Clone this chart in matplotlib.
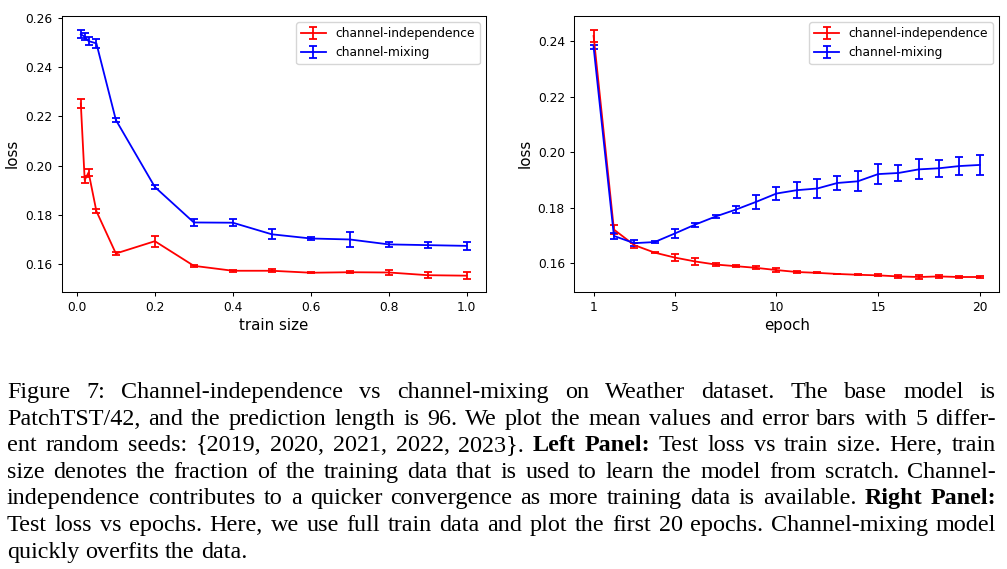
import matplotlib
matplotlib.use('Agg')
import matplotlib.pyplot as plt

# ---------------- data ----------------
train_size = [0.01, 0.02, 0.03, 0.05, 0.1, 0.2, 0.3, 0.4, 0.5, 0.6, 0.7, 0.8, 0.9, 1.0]
ci_loss_ts = [0.2252, 0.1941, 0.1972, 0.1815, 0.1643, 0.1693, 0.1593, 0.1573, 0.1573, 0.1565, 0.1567, 0.1566, 0.1555, 0.1553]
ci_err_ts = [0.0018, 0.0012, 0.0015, 0.0009, 0.0007, 0.0022, 0.0004, 0.0004, 0.0006, 0.0002, 0.0005, 0.0011, 0.0012, 0.0014]
cm_loss_ts = [0.2533, 0.2523, 0.2505, 0.2496, 0.2185, 0.1913, 0.1769, 0.1768, 0.1721, 0.1704, 0.1700, 0.1680, 0.1677, 0.1674]
cm_err_ts = [0.0016, 0.0015, 0.0016, 0.0017, 0.0008, 0.0009, 0.0014, 0.0014, 0.0020, 0.0005, 0.0029, 0.0011, 0.0011, 0.0015]

epochs = list(range(1, 21))
ci_loss_ep = [0.2419, 0.1721, 0.1665, 0.1638, 0.1620, 0.1606, 0.1595, 0.1589, 0.1583, 0.1575,
              0.1568, 0.1565, 0.1561, 0.1558, 0.1556, 0.1552, 0.1550, 0.1552, 0.1550, 0.1550]
ci_err_ep = [0.0022, 0.0015, 0.0009, 0.0003, 0.0012, 0.0011, 0.0006, 0.0004, 0.0005, 0.0006,
             0.0002, 0.0002, 0.0001, 0.0002, 0.0004, 0.0006, 0.0006, 0.0005, 0.0004, 0.0004]
cm_loss_ep = [0.2379, 0.1698, 0.1672, 0.1676, 0.1707, 0.1739, 0.1768, 0.1793, 0.1821, 0.1851,
              0.1863, 0.1869, 0.1889, 0.1895, 0.1921, 0.1925, 0.1938, 0.1942, 0.1950, 0.1954]
cm_err_ep = [0.0006, 0.0010, 0.0010, 0.0004, 0.0016, 0.0007, 0.0007, 0.0013, 0.0025, 0.0024,
             0.0029, 0.0034, 0.0026, 0.0036, 0.0035, 0.0028, 0.0036, 0.0030, 0.0034, 0.0036]
epoch_ticks = [1, 5, 10, 15, 20]

caption_lines = [
    [("Figure 7:  Channel-independence vs channel-mixing on Weather dataset.  The base model is", False)],
    [("PatchTST/42, and the prediction length is 96. We plot the mean values and error bars with 5 differ-", False)],
    [("ent random seeds: {2019, 2020, 2021, 2022, 2023}.", False), ("Left Panel:", True),
     ("Test loss vs train size. Here, train", False)],
    [("size denotes the fraction of the training data that is used to learn the model from scratch. Channel-", False)],
    [("independence contributes to a quicker convergence as more training data is available.", False),
     ("Right Panel:", True)],
    [("Test loss vs epochs. Here, we use full train data and plot the first 20 epochs. Channel-mixing model", False)],
    [("quickly overfits the data.", False)],
]

# ---------------- figure ----------------
W, H = 1007, 569
fig = plt.figure(figsize=(W / 100, H / 100), dpi=100)

TICK_FS = 8.8
LABEL_FS = 10.8
LEG_FS = 8.8
LW = 1.3
CAP = 3.2

axL = fig.add_axes([61.5 / W, 1 - 291.7 / H, (486 - 61.5) / W, (291.7 - 16) / H])
axR = fig.add_axes([574.3 / W, 1 - 291.7 / H, (999 - 574.3) / W, (291.7 - 16) / H])

for ax, x, ci, cie, cm, cme, xl in [
    (axL, train_size, ci_loss_ts, ci_err_ts, cm_loss_ts, cm_err_ts, 'train size'),
    (axR, epochs, ci_loss_ep, ci_err_ep, cm_loss_ep, cm_err_ep, 'epoch'),
]:
    ax.errorbar(x, ci, yerr=cie, color='red', lw=LW, elinewidth=LW, capsize=CAP,
                capthick=LW, label='channel-independence')
    ax.errorbar(x, cm, yerr=cme, color='blue', lw=LW, elinewidth=LW, capsize=CAP,
                capthick=LW, label='channel-mixing')
    ax.set_xlabel(xl, fontsize=LABEL_FS, labelpad=3)
    ax.set_ylabel('loss', fontsize=LABEL_FS)
    ax.tick_params(labelsize=TICK_FS, length=3.2, width=0.75)
    for s in ax.spines.values():
        s.set_linewidth(0.75)
    ax.legend(loc='upper right', fontsize=LEG_FS, handlelength=2.0)

axL.set_ylim(0.1488, 0.2607)
axR.set_ylim(0.1497, 0.2491)
axR.set_xticks(epoch_ticks)

# ---------------- caption (justified) ----------------
renderer = fig.canvas.get_renderer()
X0, X1 = 7.0, 996.0
BASE0, STEP = 398.0, 26.6
CAP_FS = 17.4
for i, segs in enumerate(caption_lines):
    words = []
    for txt, bold in segs:
        for w in txt.split():
            words.append((w, bold))
    objs = []
    for w, bold in words:
        t = fig.text(0, 1 - (BASE0 + i * STEP) / H, w, fontsize=CAP_FS,
                     family='Liberation Serif', fontweight='bold' if bold else 'normal',
                     ha='left', va='baseline')
        objs.append(t)
    widths = [t.get_window_extent(renderer).width for t in objs]
    last = (i == len(caption_lines) - 1)
    if last or len(objs) == 1:
        gap = CAP_FS * 100 / 72 * 0.25
    else:
        gap = (X1 - X0 - sum(widths)) / (len(objs) - 1)
    x = X0
    for t, wd in zip(objs, widths):
        t.set_x(x / W)
        x += wd + gap

fig.savefig('out.png', dpi=100)
